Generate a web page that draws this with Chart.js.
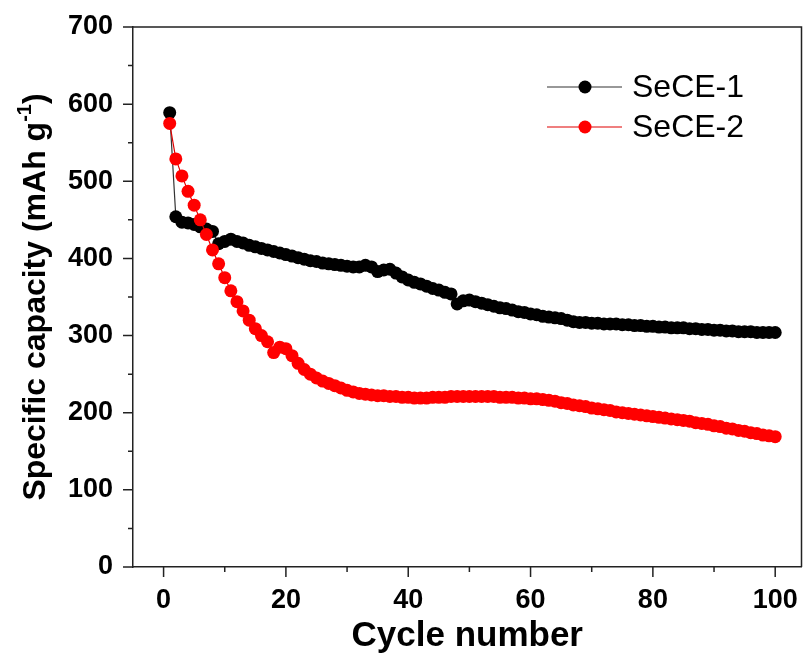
<!DOCTYPE html>
<html>
<head>
<meta charset="utf-8">
<script src="https://cdn.jsdelivr.net/npm/chart.js@4.4.1/dist/chart.umd.min.js"></script>
<style>
  html, body { margin: 0; padding: 0; background: #fff; }
  canvas { display: block; }
</style>
</head>
<body>
<canvas id="capacityChart" width="808" height="659"></canvas>
<script>
// cycle index (x) and capacity, mAh g-1
const cycles = [1, 2, 3, 4, 5, 6, 7, 8, 9, 10, 11, 12, 13, 14, 15, 16, 17, 18, 19, 20,
  21, 22, 23, 24, 25, 26, 27, 28, 29, 30, 31, 32, 33, 34, 35, 36, 37, 38, 39, 40,
  41, 42, 43, 44, 45, 46, 47, 48, 49, 50, 51, 52, 53, 54, 55, 56, 57, 58, 59, 60,
  61, 62, 63, 64, 65, 66, 67, 68, 69, 70, 71, 72, 73, 74, 75, 76, 77, 78, 79, 80,
  81, 82, 83, 84, 85, 86, 87, 88, 89, 90, 91, 92, 93, 94, 95, 96, 97, 98, 99, 100];

const sece1 = [589, 454, 447, 446, 444, 441, 438, 435, 419, 422,
  425, 422, 420, 417, 415, 413, 411, 409, 407, 405,
  403, 401, 399, 397, 396, 394, 393, 392, 391, 390,
  389, 389, 391, 389, 383, 385, 386, 381, 376, 372,
  369, 367, 364, 361, 359, 356, 354, 341, 345, 346,
  344, 342, 340, 338, 336, 335, 333, 331, 330, 328,
  327, 325, 324, 323, 322, 320, 318, 317, 317, 316,
  316, 315, 315, 315, 314, 314, 313, 313, 312, 312,
  311, 311, 310, 310, 310, 309, 309, 308, 308, 307,
  307, 306, 306, 305, 305, 305, 304, 304, 304, 304];

const sece2 = [575, 529, 507, 487, 469, 450, 431, 411, 393, 375,
  358, 344, 332, 320, 309, 300, 292, 278, 285, 283,
  274, 264, 256, 250, 245, 241, 238, 235, 232, 229,
  227, 225, 224, 223, 222, 222, 221, 221, 220, 220,
  219, 219, 219, 220, 220, 220, 221, 221, 221, 221,
  221, 221, 221, 221, 220, 220, 220, 219, 219, 218,
  218, 217, 216, 215, 213, 212, 210, 209, 208, 206,
  205, 204, 203, 201, 200, 199, 198, 197, 196, 195,
  194, 193, 192, 191, 190, 189, 187, 186, 185, 183,
  182, 180, 179, 177, 176, 174, 173, 171, 170, 169];

const seriesNames = ['SeCE-1', 'SeCE-2'];
const xTicks = [0, 20, 40, 60, 80, 100];
const xMinorTicks = [10, 30, 50, 70, 90];
const yTicks = [0, 100, 200, 300, 400, 500, 600, 700];
const yMinorTicks = [50, 150, 250, 350, 450, 550, 650];
const xTitle = 'Cycle number';
const yTitle = ['Specific capacity (mAh g', '-1', ')'];

const FONT = "'Liberation Sans', Arial, sans-serif";
const toPoints = (ys) => ys.map((y, i) => ({ x: cycles[i], y }));

// frame, outward ticks, y title with superscript, legend
const decorations = {
  id: 'decorations',
  afterDraw(chart) {
    const { ctx, chartArea: a, scales: { x, y } } = chart;
    ctx.save();
    ctx.strokeStyle = '#222';
    ctx.lineWidth = 1.5;
    ctx.beginPath();
    ctx.moveTo(a.left, a.top);
    ctx.lineTo(a.right, a.top);
    ctx.lineTo(a.right, a.bottom);
    ctx.stroke();

    ctx.beginPath();
    xTicks.forEach(v => { const px = x.getPixelForValue(v); ctx.moveTo(px, a.bottom); ctx.lineTo(px, a.bottom + 10); });
    xMinorTicks.forEach(v => { const px = x.getPixelForValue(v); ctx.moveTo(px, a.bottom); ctx.lineTo(px, a.bottom + 5); });
    yTicks.forEach(v => { const py = y.getPixelForValue(v); ctx.moveTo(a.left, py); ctx.lineTo(a.left - 10, py); });
    yMinorTicks.forEach(v => { const py = y.getPixelForValue(v); ctx.moveTo(a.left, py); ctx.lineTo(a.left - 5, py); });
    ctx.stroke();

    // y title
    ctx.save();
    ctx.translate(36, (a.top + a.bottom) / 2);
    ctx.rotate(-Math.PI / 2);
    ctx.fillStyle = '#000';
    ctx.textBaseline = 'middle';
    const big = 'bold 32px ' + FONT, small = 'bold 20px ' + FONT;
    ctx.font = big; const w0 = ctx.measureText(yTitle[0]).width; const w2 = ctx.measureText(yTitle[2]).width;
    ctx.font = small; const w1 = ctx.measureText(yTitle[1]).width;
    let cx = -(w0 + w1 + w2) / 2;
    ctx.textAlign = 'left';
    ctx.font = big; ctx.fillText(yTitle[0], cx, 0); cx += w0;
    ctx.font = small; ctx.fillText(yTitle[1], cx, -11); cx += w1;
    ctx.font = big; ctx.fillText(yTitle[2], cx, 0);
    ctx.restore();

    // legend
    const rows = [87, 127];
    chart.data.datasets.slice().sort((p, q) => seriesNames.indexOf(p.label) - seriesNames.indexOf(q.label)).forEach((ds, i) => {
      const ly = rows[i];
      ctx.strokeStyle = ds.borderColor;
      ctx.lineWidth = 1.2;
      ctx.beginPath(); ctx.moveTo(547, ly); ctx.lineTo(622, ly); ctx.stroke();
      ctx.fillStyle = ds.pointBackgroundColor;
      ctx.beginPath(); ctx.arc(585, ly, 6.5, 0, Math.PI * 2); ctx.fill();
      ctx.fillStyle = '#000';
      ctx.font = '32px ' + FONT;
      ctx.textAlign = 'left';
      ctx.textBaseline = 'middle';
      ctx.fillText(ds.label, 632, ly + 1);
    });
    ctx.restore();
  }
};

new Chart(document.getElementById('capacityChart'), {
  type: 'line',
  data: {
    datasets: [
      {
        label: seriesNames[0],
        data: toPoints(sece1),
        borderColor: '#333',
        borderWidth: 1.2,
        pointBackgroundColor: '#000',
        pointBorderColor: '#000',
        pointRadius: 6.5,
        pointBorderWidth: 0,
        order: 1
      },
      {
        label: seriesNames[1],
        data: toPoints(sece2),
        borderColor: '#e00000',
        borderWidth: 1.2,
        pointBackgroundColor: '#ff0000',
        pointBorderColor: '#ff0000',
        pointRadius: 6.5,
        pointBorderWidth: 0,
        order: 0
      }
    ]
  },
  options: {
    responsive: false,
    animation: false,
    layout: { padding: { top: 27, right: 0, left: 0, bottom: 0 } },
    plugins: { legend: { display: false }, tooltip: { enabled: false } },
    scales: {
      x: {
        type: 'linear',
        min: -5,
        max: 104.3,
        afterBuildTicks: (s) => { s.ticks = xTicks.map(v => ({ value: v })); },
        afterFit: (s) => { s.height = 92; s.paddingLeft = 0; s.paddingRight = 0; },
        grid: { display: true, drawOnChartArea: false, drawTicks: false },
        border: { display: true, color: '#222', width: 1.5 },
        ticks: { color: '#000', font: { family: FONT, size: 27, weight: 'bold' }, padding: 17, maxRotation: 0 },
        title: { display: true, text: xTitle, color: '#000', font: { family: FONT, size: 35, weight: 'bold' }, padding: { top: 0, bottom: 2 } }
      },
      y: {
        min: 0,
        max: 700,
        afterBuildTicks: (s) => { s.ticks = yTicks.map(v => ({ value: v })); },
        afterFit: (s) => { s.width = 133; s.paddingTop = 0; s.paddingBottom = 0; },
        grid: { display: true, drawOnChartArea: false, drawTicks: false },
        border: { display: true, color: '#222', width: 1.5 },
        ticks: { color: '#000', font: { family: FONT, size: 27, weight: 'bold' }, padding: 20 }
      }
    }
  },
  plugins: [decorations]
});
</script>
</body>
</html>
